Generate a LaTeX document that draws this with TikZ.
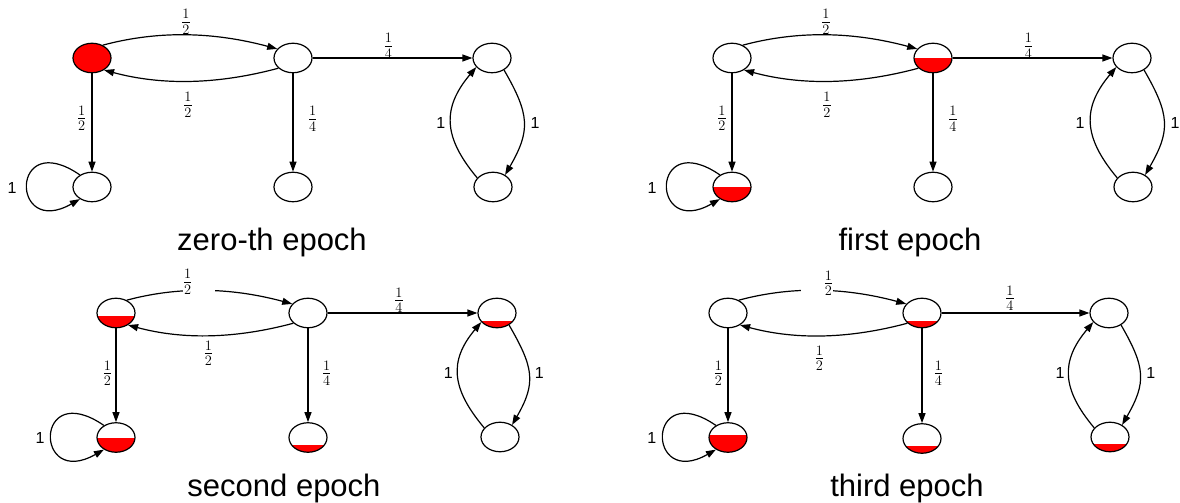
\documentclass[tikz,border=0pt]{standalone}
\usepackage{fontspec}
\setmainfont{Liberation Sans}
\usetikzlibrary{arrows.meta,shapes.geometric}

\tikzset{
  st/.style={draw, ellipse, minimum width=38pt, minimum height=29.5pt, inner sep=0pt, line width=1.2pt},
  arr/.style={line width=1.2pt, -{Triangle[length=10pt,width=7pt]}},
  frac/.style={inner sep=0pt, font=\fontsize{20}{22}\selectfont},
  one/.style={inner sep=0pt, font=\fontsize{16}{18}\selectfont},
  ttl/.style={inner sep=0pt, anchor=base, font=\fontsize{31}{36}\selectfont},
  lvl/.style={path picture={\fill[red] (path picture bounding box.south west) rectangle ([yshift=#1]path picture bounding box.south east);}},
  upper/.style={out=15, in=165, looseness=0.9},
  lower/.style={out=195, in=-15, looseness=0.9},
  rdown/.style={out=-60, in=60, looseness=1.25},
  lup/.style={out=130, in=230, looseness=1.23},
}

\begin{document}
\begin{tikzpicture}[x=1pt, y=1pt]
\path[use as bounding box] (0,0) rectangle (1180,503);

% ---------- zero-th epoch ----------
\node[st, fill=red] (a1) at (92,445) {};
\node[st] (b1) at (293,445) {};
\node[st] (c1) at (492,445) {};
\node[st] (d1) at (92,316) {};
\node[st] (e1) at (293,316) {};
\node[st] (f1) at (493,316) {};
\draw[arr] (a1.50) to[upper] (b1.150);
\draw[arr] (b1.215) to[lower] (a1.-45);
\draw[arr] (b1) -- (c1);
\draw[arr] (a1) -- (d1);
\draw[arr] (b1) -- (e1);
\draw[arr] (c1.-45) to[rdown] (f1.45);
\draw[arr] (f1.150) to[lup] (c1.210);
\draw[arr] (d1.135) .. controls +(-70,48) and +(-70,-40) .. (d1.-135);
\node[frac] (p1ab) at (186,481) {$\frac{1}{2}$};
\node[frac] (p1ba) at (188,398) {$\frac{1}{2}$};
\node[frac] (p1ad) at (81.7,384.7) {$\frac{1}{2}$};
\node[frac] (p1be) at (312.7,384) {$\frac{1}{4}$};
\node[frac] (p1bc) at (388.3,457) {$\frac{1}{4}$};
\node[one] (p1fc) at (440.7,380.3) {1};
\node[one] (p1cf) at (535,380.3) {1};
\node[one] (p1dd) at (12,315) {1};
\node[ttl] (t1) at (272,252) {zero-th epoch};

% ---------- first epoch ----------
\node[st] (a2) at (732,445) {};
\node[st, lvl=14.5pt] (b2) at (933,445) {};
\node[st] (c2) at (1132,445) {};
\node[st, lvl=14.5pt] (d2) at (732,316) {};
\node[st] (e2) at (933,316) {};
\node[st] (f2) at (1133,316) {};
\draw[arr] (a2.50) to[upper] (b2.150);
\draw[arr] (b2.215) to[lower] (a2.-45);
\draw[arr] (b2) -- (c2);
\draw[arr] (a2) -- (d2);
\draw[arr] (b2) -- (e2);
\draw[arr] (c2.-45) to[rdown] (f2.45);
\draw[arr] (f2.150) to[lup] (c2.210);
\draw[arr] (d2.135) .. controls +(-70,48) and +(-70,-40) .. (d2.-135);
\node[frac] (p2ab) at (826,481) {$\frac{1}{2}$};
\node[frac] (p2ba) at (827,398) {$\frac{1}{2}$};
\node[frac] (p2ad) at (722,384.7) {$\frac{1}{2}$};
\node[frac] (p2be) at (953,384) {$\frac{1}{4}$};
\node[frac] (p2bc) at (1028.3,457) {$\frac{1}{4}$};
\node[one] (p2fc) at (1080,380.3) {1};
\node[one] (p2cf) at (1175,380.3) {1};
\node[one] (p2dd) at (652,315) {1};
\node[ttl] (t2) at (910,252) {first epoch};

% ---------- second epoch ----------
\node[st, lvl=12pt] (a3) at (116,190) {};
\node[st] (b3) at (308,190) {};
\node[st, lvl=7pt] (c3) at (497,190) {};
\node[st, lvl=14.5pt] (d3) at (116,65.5) {};
\node[st, lvl=7.5pt] (e3) at (308,65.5) {};
\node[st] (f3) at (500,66) {};
\draw[arr] (a3.50) to[upper] (b3.150);
\draw[arr] (b3.215) to[lower] (a3.-45);
\draw[arr] (b3) -- (c3);
\draw[arr] (a3) -- (d3);
\draw[arr] (b3) -- (e3);
\draw[arr] (c3.-45) to[rdown] (f3.45);
\draw[arr] (f3.150) to[lup] (c3.210);
\draw[arr] (d3.135) .. controls +(-70,48) and +(-70,-40) .. (d3.-135);
\node[frac, fill=white, inner ysep=3pt] (p3ab) at (199,221) {\makebox[32pt][l]{$\frac{1}{2}$}};
\node[frac] (p3ba) at (208.3,149.7) {$\frac{1}{2}$};
\node[frac] (p3ad) at (107.3,129.7) {$\frac{1}{2}$};
\node[frac] (p3be) at (326.7,129.7) {$\frac{1}{4}$};
\node[frac] (p3bc) at (399,202.5) {$\frac{1}{4}$};
\node[one] (p3fc) at (448.3,129.7) {1};
\node[one] (p3cf) at (539.3,129.7) {1};
\node[one] (p3dd) at (40,64.7) {1};
\node[ttl] (t3) at (284,6) {second epoch};

% ---------- third epoch ----------
\node[st] (a4) at (728,190) {};
\node[st, lvl=7pt] (b4) at (922,190) {};
\node[st] (c4) at (1109,190) {};
\node[st, lvl=17pt] (d4) at (728,65.5) {};
\node[st, lvl=7.5pt] (e4) at (922,64.5) {};
\node[st, lvl=8pt] (f4) at (1110,66) {};
\draw[arr] (a4.50) to[upper] (b4.150);
\draw[arr] (b4.215) to[lower] (a4.-45);
\draw[arr] (b4) -- (c4);
\draw[arr] (a4) -- (d4);
\draw[arr] (b4) -- (e4);
\draw[arr] (c4.-45) to[rdown] (f4.45);
\draw[arr] (f4.150) to[lup] (c4.210);
\draw[arr] (d4.135) .. controls +(-70,48) and +(-70,-40) .. (d4.-135);
\node[frac, fill=white, inner ysep=3pt] (p4ab) at (817,219.7) {\makebox[32pt][r]{$\frac{1}{2}$}};
\node[frac] (p4ba) at (819.3,144.7) {$\frac{1}{2}$};
\node[frac] (p4ad) at (718.3,129.7) {$\frac{1}{2}$};
\node[frac] (p4be) at (938.3,129.7) {$\frac{1}{4}$};
\node[frac] (p4bc) at (1010,204.5) {$\frac{1}{4}$};
\node[one] (p4fc) at (1060,129.7) {1};
\node[one] (p4cf) at (1150.7,129.7) {1};
\node[one] (p4dd) at (651.7,64.7) {1};
\node[ttl] (t4) at (907,6) {third epoch};
\end{tikzpicture}
\end{document}
